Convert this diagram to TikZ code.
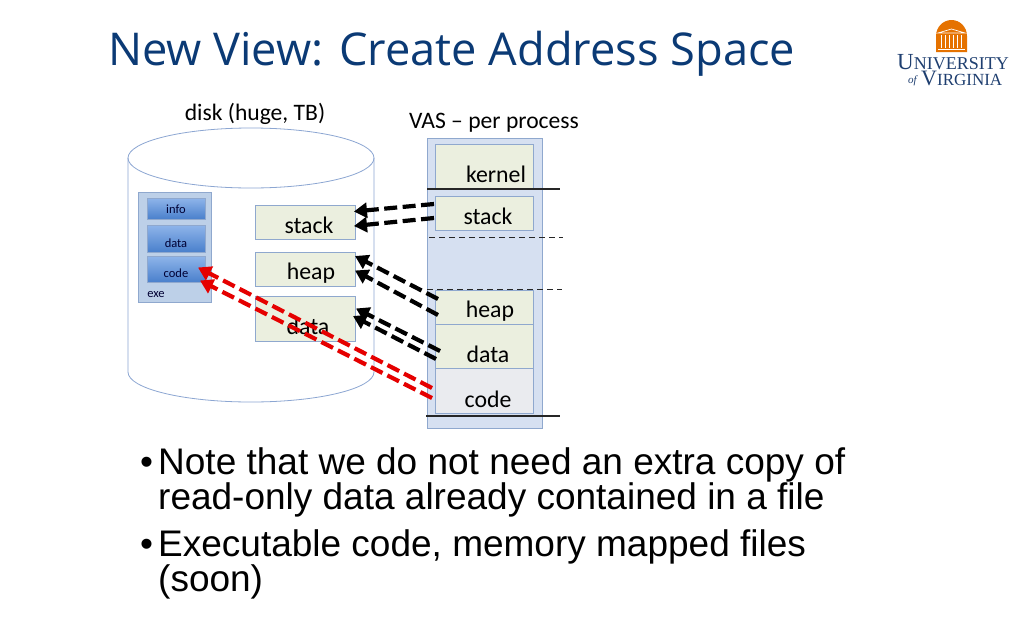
\documentclass[tikz,border=0pt]{standalone}
\usepackage{fontspec}
\setmainfont{Carlito}
\newfontfamily\bodyfont{Liberation Sans}
\newfontfamily\logofont{Liberation Serif}
\newfontfamily\titlefont{Open Sans}
\usetikzlibrary{arrows.meta}
\definecolor{boxline}{HTML}{8FA8CE}
\definecolor{cyl}{HTML}{8CA6D2}
\definecolor{olive}{HTML}{EBEFDF}
\definecolor{vas}{HTML}{D6E0F1}
\definecolor{exefill}{HTML}{BDD0E8}
\definecolor{titleblue}{HTML}{0B3A75}
\definecolor{uvaorange}{HTML}{E57200}
\definecolor{uvablue}{HTML}{1F3F70}
\definecolor{codegray}{HTML}{EAEBEF}
\definecolor{btntop}{HTML}{8FB5EA}
\definecolor{btnbot}{HTML}{4A80CC}
\tikzset{
 x=1pt,y=-1pt,
 seg/.style={draw=boxline,line width=0.8pt,fill=olive,minimum width=98pt,inner sep=0pt,outer sep=0pt},
 dseg/.style={draw=boxline,line width=0.8pt,fill=olive,minimum width=100pt,inner sep=0pt,outer sep=0pt},
 lbl/.style={font=\fontsize{23.8}{26}\selectfont,inner sep=0pt,text=black,anchor=base},
 small/.style={font=\fontsize{23.6}{26}\selectfont,inner sep=0pt,text=black,anchor=base},
 btn/.style={draw=boxline,line width=0.6pt,top color=btntop,bottom color=btnbot,minimum width=58pt,inner sep=0pt},
 btnlbl/.style={font=\fontsize{12.5}{13}\selectfont,inner sep=0pt,text=black!80!blue},
 mapb/.style={line width=4.2pt,draw=black,dash pattern=on 13pt off 5.5pt,-{Triangle[length=13pt,width=15pt]}},
 mapr/.style={line width=4.2pt,draw=red!90!black,dash pattern=on 13pt off 5.5pt,-{Triangle[length=13pt,width=15pt]}},
 rulesolid/.style={line width=1.1pt,draw=black!85},
 ruledash/.style={line width=0.9pt,draw=black!85,dash pattern=on 6pt off 4pt},
 para/.style={font=\bodyfont\fontsize{37}{37}\selectfont,anchor=base west,inner sep=0pt,text=black},
 logotxt/.style={font=\logofont,text=uvablue,inner sep=0pt,anchor=base west},
}
\begin{document}
\begin{tikzpicture}
\useasboundingbox (0,0) rectangle (1024,640);
\fill[white] (0,0) rectangle (1024,640);
% title
\node[font=\titlefont\fontsize{45.2}{48}\selectfont,text=titleblue,anchor=base west,inner sep=0pt] (title) at (108,65) {New View: Create Address Space};
% logo
\fill[uvaorange] (936,52) -- (936,36) arc[start angle=180,end angle=0,x radius=15.5,y radius=-16] -- (967,52) -- cycle;
\draw[white,line width=0.7pt] (938,33) -- (951.5,29) -- (965,33) -- cycle;
\foreach \cx in {941,945,949,953,957,961} \draw[white,line width=0.8pt] (\cx,35) -- (\cx,48);
\draw[white,line width=0.7pt] (938,49) -- (965,49);
\node[logotxt] (uni) at (897,69) {\fontsize{23}{24}\selectfont U\fontsize{18}{24}\selectfont NIVERSITY};
\node[logotxt,font=\logofont\itshape\fontsize{11}{12}\selectfont] (ofl) at (908,83) {of};
\node[logotxt] (vir) at (921,85) {\fontsize{22}{24}\selectfont V\fontsize{17}{24}\selectfont IRGINIA};
% top labels
\node[small] (disklbl) at (255,120.5) {disk (huge, TB)};
\node[small] (vaslbl) at (494,128) {VAS – per process};
% cylinder
\fill[white] (128,158) -- (128,372) arc[start angle=180,end angle=360,x radius=123,y radius=-30] -- (374,158) -- cycle;
\draw[cyl,line width=0.8pt] (128,158) -- (128,372) arc[start angle=180,end angle=360,x radius=123,y radius=-30] -- (374,158);
\draw[cyl,line width=0.8pt] (251,158) ellipse[x radius=123,y radius=30];
% exe
\node[draw=boxline,fill=exefill,line width=0.8pt,minimum width=73pt,minimum height=110pt,inner sep=0pt] (exe) at (174.5,247) {};
\node[btn,minimum height=21pt] (info) at (176,208.5) {};
\node[btn,minimum height=27pt] (dataexe) at (176,238.5) {};
\node[btn,minimum height=26pt] (codeexe) at (176,269) {};
\node[btnlbl] (infol) at (176,209.5) {info};
\node[btnlbl] (datal) at (176,243.5) {data};
\node[btnlbl] (codel) at (176,273.5) {code};
\node[btnlbl] (exel) at (156,294.5) {exe};
% disk segments
\node[dseg,minimum height=34pt] (dstack) at (305,222) {};
\node[dseg,minimum height=34pt] (dheap) at (305,269) {};
\node[dseg,minimum height=45pt] (ddata) at (305,318.5) {};
\node[lbl] (dstackl) at (309,233) {stack};
\node[lbl] (dheapl) at (311,279) {heap};
\node[lbl] (ddatal) at (308,334) {data};
% VAS
\node[draw=boxline,fill=vas,line width=0.8pt,minimum width=115pt,minimum height=290pt,inner sep=0pt] (vasbox) at (484.5,283) {};
\node[seg,minimum height=44pt] (vkern) at (484.5,166.5) {};
\node[seg,minimum height=34.5pt] (vstack) at (484.5,213.5) {};
\node[seg,minimum height=34pt] (vheap) at (484.5,307) {};
\node[seg,minimum height=44pt] (vdata) at (484.5,346) {};
\node[seg,fill=codegray,minimum height=45pt] (vcode) at (484.5,390.5) {};
\node[lbl] (vkernl) at (496,182.5) {kernel};
\node[lbl] (vstackl) at (488,224) {stack};
\node[lbl] (vheapl) at (490,317.5) {heap};
\node[lbl] (vdatal) at (488,362) {data};
\node[lbl] (vcodel) at (488,407) {code};
% rules
\coordinate (r1a) at (427,189); \coordinate (r1b) at (560,189);
\coordinate (r2a) at (429,237); \coordinate (r2b) at (563,237);
\coordinate (r3a) at (427,289); \coordinate (r3b) at (562,289);
\coordinate (r4a) at (426,416); \coordinate (r4b) at (560,416);
\draw[rulesolid] (r1a) -- (r1b);
\draw[ruledash] (r2a) -- (r2b);
\draw[ruledash] (r3a) -- (r3b);
\draw[rulesolid] (r4a) -- (r4b);
% connector ends
\coordinate (sa1) at (434,204); \coordinate (sb1) at (354,211.5);
\coordinate (sa2) at (434,218); \coordinate (sb2) at (354,226);
\coordinate (ha1) at (438,299); \coordinate (hb1) at (355,256);
\coordinate (ha2) at (438,315); \coordinate (hb2) at (355,270.5);
\coordinate (da1) at (440,351); \coordinate (db1) at (356,308.5);
\coordinate (da2) at (436,359); \coordinate (db2) at (353,316);
\coordinate (ca1) at (432,388); \coordinate (cb1) at (198,267.5);
\coordinate (ca2) at (432,398); \coordinate (cb2) at (200,280.5);
\draw[mapb] (sa1) -- (sb1);
\draw[mapb] (sa2) -- (sb2);
\draw[mapb] (ha1) -- (hb1);
\draw[mapb] (ha2) -- (hb2);
\draw[mapb] (da1) -- (db1);
\draw[mapb] (da2) -- (db2);
\draw[mapr] (ca1) -- (cb1);
\draw[mapr] (ca2) -- (cb2);
% text
\node[para] (b1) at (140,474) {•};
\node[para] (t1) at (158,474) {Note that we do not need an extra copy of};
\node[para] (t2) at (158,509) {read-only data already contained in a file};
\node[para] (b2) at (140,556) {•};
\node[para] (t3) at (158,556) {Executable code, memory mapped files};
\node[para] (t4) at (158,591) {(soon)};
\end{tikzpicture}
\end{document}
